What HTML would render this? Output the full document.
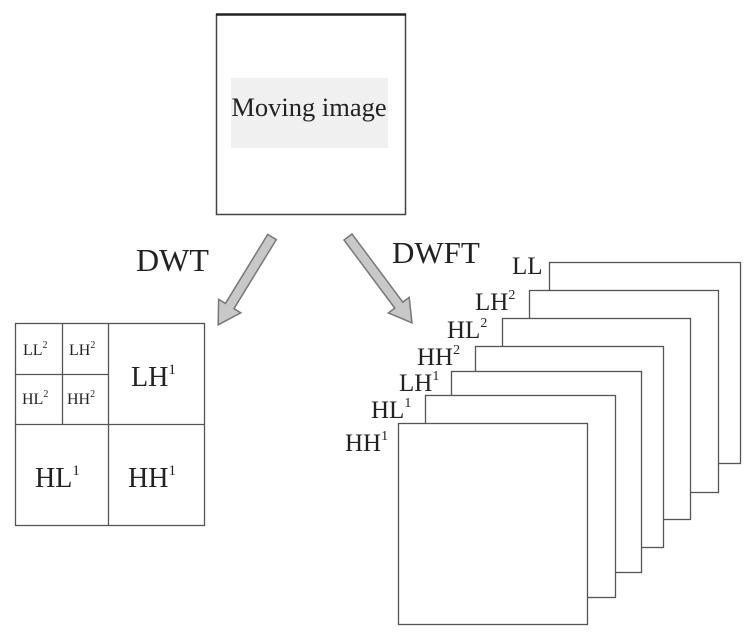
<!DOCTYPE html>
<html><head><meta charset="utf-8"><style>
html,body{margin:0;padding:0;background:#fff;}
svg{display:block;}
text{font-family:"Liberation Serif",serif;fill:#222;}
</style></head><body>
<svg width="752" height="638" viewBox="0 0 752 638" xmlns="http://www.w3.org/2000/svg">
<rect x="216.5" y="14.5" width="189" height="200" fill="#fff" stroke="#444" stroke-width="1.5"/>
<line x1="216" y1="14.5" x2="406" y2="14.5" stroke="#222" stroke-width="2.5"/>
<rect x="231" y="78" width="157" height="70" fill="#f0f0f0"/>
<text x="309" y="116" font-size="26.5" text-anchor="middle">Moving image</text>

<g transform="translate(272,237) rotate(121.5)">
<polygon points="0,-5 81,-5 81,-13 103,0 81,13 81,5 0,5" fill="#c8c8c8" stroke="#777" stroke-width="1.5"/>
</g>
<g transform="translate(348,237) rotate(53.3)">
<polygon points="0,-5 85,-5 85,-13 107,0 85,13 85,5 0,5" fill="#c8c8c8" stroke="#777" stroke-width="1.5"/>
</g>
<text x="136" y="271" font-size="32">DWT</text>
<text x="392" y="263" font-size="31">DWFT</text>

<g fill="none" stroke="#555" stroke-width="1.3">
<rect x="15.5" y="323.5" width="189" height="202"/>
<line x1="108.5" y1="323" x2="108.5" y2="526"/>
<line x1="15" y1="424.5" x2="205" y2="424.5"/>
<line x1="62.5" y1="323" x2="62.5" y2="424"/>
<line x1="15" y1="374.5" x2="108" y2="374.5"/>
</g>
<text x="23" y="355" font-size="16">LL<tspan font-size="10" dy="-7">2</tspan></text>
<text x="69" y="355" font-size="16">LH<tspan font-size="10" dy="-7">2</tspan></text>
<text x="22" y="404" font-size="16">HL<tspan font-size="10" dy="-7">2</tspan></text>
<text x="67" y="404" font-size="16">HH<tspan font-size="10" dy="-7">2</tspan></text>
<text x="131" y="386" font-size="28">LH<tspan font-size="15" dy="-12">1</tspan></text>
<text x="35" y="487" font-size="28">HL<tspan font-size="15" dy="-12">1</tspan></text>
<text x="128" y="487" font-size="28">HH<tspan font-size="15" dy="-12">1</tspan></text>

<g fill="#fff" stroke="#555" stroke-width="1.3">
<rect x="549.5" y="262.5" width="191" height="201"/>
<rect x="529.5" y="290.5" width="189" height="202"/>
<rect x="502.5" y="318.5" width="188" height="201"/>
<rect x="475.5" y="346.5" width="188" height="201"/>
<rect x="451.5" y="371.5" width="190" height="201"/>
<rect x="425.5" y="395.5" width="190" height="202"/>
<rect x="398.5" y="423.5" width="189" height="201"/>
</g>
<g font-size="25">
<text x="512" y="274">LL</text>
<text x="475" y="310">LH<tspan font-size="14" dy="-11">2</tspan></text>
<text x="447" y="338">HL<tspan font-size="14" dy="-11">2</tspan></text>
<text x="417" y="365">HH<tspan font-size="14" dy="-11">2</tspan></text>
<text x="399" y="391">LH<tspan font-size="14" dy="-11">1</tspan></text>
<text x="371" y="418">HL<tspan font-size="14" dy="-11">1</tspan></text>
<text x="345" y="451">HH<tspan font-size="14" dy="-11">1</tspan></text>
</g>
</svg>
</body></html>
